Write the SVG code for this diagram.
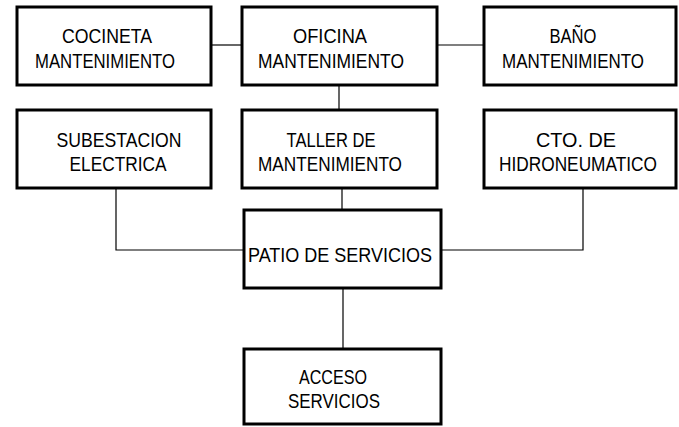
<svg xmlns="http://www.w3.org/2000/svg" width="679" height="427" viewBox="0 0 679 427">
<style>
.box{fill:#fff;stroke:#000;stroke-width:3}
.c{fill:none;stroke:#000;stroke-width:1.2}
text{font-family:"Liberation Sans","DejaVu Sans",sans-serif;font-size:21px;fill:#000;text-anchor:middle}
</style>
<rect width="679" height="427" fill="#fff"/>
<g id="connectors">
<line class="c" x1="211" y1="45" x2="242" y2="45"/>
<line class="c" x1="437" y1="45" x2="484" y2="45"/>
<line class="c" x1="339" y1="85" x2="339" y2="110"/>
<line class="c" x1="342" y1="188" x2="342" y2="210"/>
<polyline class="c" points="116,188 116,250 244,250"/>
<polyline class="c" points="583,188 583,250 441,250"/>
<line class="c" x1="343" y1="288" x2="343" y2="349"/>
</g>
<g id="cocineta">
<rect class="box" x="17" y="7" width="194" height="78"/>
<text x="107" y="43" textLength="90" lengthAdjust="spacingAndGlyphs">COCINETA</text>
<text x="105" y="68" textLength="140" lengthAdjust="spacingAndGlyphs">MANTENIMIENTO</text>
</g>
<g id="oficina">
<rect class="box" x="242" y="7" width="195" height="78"/>
<text x="330" y="43" textLength="74" lengthAdjust="spacingAndGlyphs">OFICINA</text>
<text x="331" y="68" textLength="146" lengthAdjust="spacingAndGlyphs">MANTENIMIENTO</text>
</g>
<g id="bano">
<rect class="box" x="484" y="7" width="192" height="78"/>
<text x="573" y="43" textLength="47" lengthAdjust="spacingAndGlyphs">BAÑO</text>
<text x="573" y="68" textLength="142" lengthAdjust="spacingAndGlyphs">MANTENIMIENTO</text>
</g>
<g id="subestacion">
<rect class="box" x="17" y="110" width="194" height="78"/>
<text x="119" y="147" textLength="125" lengthAdjust="spacingAndGlyphs">SUBESTACION</text>
<text x="118" y="171" textLength="97" lengthAdjust="spacingAndGlyphs">ELECTRICA</text>
</g>
<g id="taller">
<rect class="box" x="242" y="110" width="195" height="78"/>
<text x="331" y="147" textLength="89" lengthAdjust="spacingAndGlyphs">TALLER DE</text>
<text x="330" y="171" textLength="144" lengthAdjust="spacingAndGlyphs">MANTENIMIENTO</text>
</g>
<g id="cto">
<rect class="box" x="484" y="110" width="192" height="78"/>
<text x="576" y="147" textLength="80" lengthAdjust="spacingAndGlyphs">CTO. DE</text>
<text x="578" y="171" font-size="19" textLength="158" lengthAdjust="spacingAndGlyphs">HIDRONEUMATICO</text>
</g>
<g id="patio">
<rect class="box" x="244" y="210" width="197" height="78"/>
<text x="340" y="262" textLength="184" lengthAdjust="spacingAndGlyphs">PATIO DE SERVICIOS</text>
</g>
<g id="acceso">
<rect class="box" x="244" y="349" width="197" height="75"/>
<text x="333" y="384" textLength="68" lengthAdjust="spacingAndGlyphs">ACCESO</text>
<text x="334" y="408" textLength="92" lengthAdjust="spacingAndGlyphs">SERVICIOS</text>
</g>
</svg>
